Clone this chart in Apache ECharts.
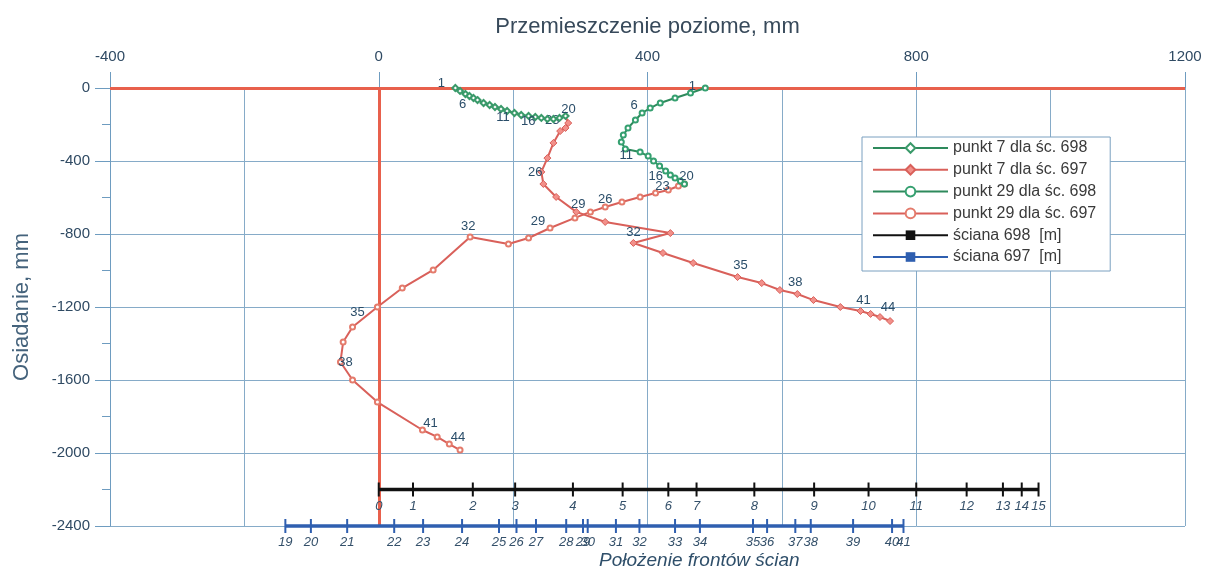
<!DOCTYPE html>
<html>
<head>
<meta charset="utf-8">
<script src="https://cdn.jsdelivr.net/npm/echarts@6/dist/echarts.min.js"></script>
<style>
  html, body { margin: 0; padding: 0; background: #ffffff; }
  #chart { width: 1207px; height: 574px; }
</style>
</head>
<body>
<div id="chart"></div>
<script>
// Measurement numbers for each wall
const nWall698 = [1,2,3,4,5,6,7,8,9,10,11,12,13,14,15,16,17,18,19,20];
const nWall697 = [20,21,22,23,24,25,26,27,28,29,30,31,32,33,34,35,36,37,38,39,40,41,42,43,44];

// Point 7 – horizontal displacement (mm) and settlement (mm)
const p7w698X = [114,121,129,135,141,147,156,165,173,182,191,202,212,223,233,242,251,260,269,278];
const p7w698Y = [0,-16,-33,-44,-55,-66,-82,-93,-104,-115,-126,-137,-148,-153,-159,-164,-170,-170,-164,-153];
const p7w697X = [278,282,278,270,260,251,242,245,264,294,337,434,379,423,468,534,570,597,623,647,687,717,732,746,761];
const p7w697Y = [-153,-192,-219,-236,-301,-384,-460,-526,-597,-679,-734,-795,-849,-904,-959,-1036,-1069,-1107,-1129,-1162,-1200,-1222,-1238,-1255,-1277];

// Point 29 – horizontal displacement (mm) and settlement (mm)
const p29w698X = [486,464,441,419,404,392,382,371,364,361,367,389,401,409,418,427,434,441,449,455];
const p29w698Y = [0,-27,-55,-82,-110,-137,-175,-219,-258,-296,-334,-351,-373,-400,-427,-455,-477,-493,-510,-526];
const p29w697X = [455,446,431,412,389,362,337,315,292,255,223,193,136,81,35,-2,-39,-53,-57,-39,-2,65,87,105,121];
const p29w697Y = [-526,-537,-559,-575,-597,-625,-652,-679,-712,-767,-822,-855,-816,-997,-1096,-1200,-1310,-1392,-1501,-1600,-1721,-1874,-1912,-1951,-1984];

// Wall front positions (horizontal scale, mm) and their labels
const wall698Pos = [0,51,140,203,289,363,431,473,559,648,729,800,875,929,957,982];
const wall698Labels = ['0','1','2','3','4','5','6','7','8','9','10','11','12','13','14','15'];
const wall697Pos = [-139,-101,-47,23,66,124,179,205,234,279,304,311,353,388,441,478,557,578,620,643,706,764,781];
const wall697Labels = ['19','20','21','22','23','24','25','26','27','28','29','30','31','32','33','34','35','36','37','38','39','40','41'];
const wall698Level = -2200;
const wall697Level = -2400;

// Axis ranges
const xMin = -400, xMax = 1200, xStep = 400;
const yMin = -2400, yMax = 0, yStep = 400;

// Where each measurement number label sits relative to its point (px)
const labelOffsets = {
  p7w698: {1: [-14, -5], 6: [-15, 4], 11: [-4, 6], 16: [-13, 3], 20: [3, -7]},
  p7w697: {23: [-8, -11], 26: [-6, 0], 29: [2, -7], 32: [0, -11], 35: [3, -12], 38: [-2, -12], 41: [3, -11], 44: [-2, -14]},
  p29w698: {1: [-13, -2], 6: [-8, -8], 11: [1, 6], 16: [-10, 5], 20: [2, -8]},
  p29w697: {23: [7, -7], 26: [0, -8], 29: [-12, -7], 32: [-2, -10], 35: [-20, 5], 38: [5, 0], 41: [8, -7], 44: [-2, -13]}
};

const FONT = '"Liberation Sans", Arial, sans-serif';
const gridColor = '#86abc8';
const axisColor = '#6e9cc0';
const textColor = '#2f4a63';

function pointData(xs, ys, ns, offsets) {
  return xs.map((x, i) => {
    const n = ns[i];
    const item = { name: String(n), value: [x, ys[i]] };
    if (offsets[n]) {
      item.label = { show: true, position: 'inside', offset: offsets[n] };
    }
    return item;
  });
}

function wallData(pos, labels, level) {
  return pos.map((p, i) => ({ name: labels[i], value: [p, level] }));
}

const pointLabel = {
  show: false,
  formatter: '{b}',
  fontFamily: FONT,
  fontSize: 13,
  color: '#2a4d69'
};

function measurementSeries(name, xs, ys, ns, offsets, symbol, size, lineColor, markerStyle, z) {
  return {
    name: name,
    type: 'line',
    data: pointData(xs, ys, ns, offsets),
    symbol: symbol,
    symbolSize: size,
    showAllSymbol: true,
    lineStyle: { color: lineColor, width: 2 },
    itemStyle: markerStyle,
    label: pointLabel,
    z: z,
    clip: false
  };
}

function wallSeries(name, pos, labels, level, color) {
  return {
    name: name,
    type: 'line',
    data: wallData(pos, labels, level),
    symbol: 'rect',
    symbolSize: [2, 14],
    showAllSymbol: true,
    lineStyle: { color: color, width: 3.5 },
    itemStyle: { color: color },
    label: {
      show: true,
      position: 'bottom',
      distance: 3,
      formatter: '{b}',
      fontFamily: FONT,
      fontStyle: 'italic',
      fontSize: 13,
      color: '#34506a'
    },
    clip: false,
    z: 3
  };
}

const series = [
  measurementSeries('punkt 7 dla śc. 698', p7w698X, p7w698Y, nWall698, labelOffsets.p7w698,
    'emptyDiamond', 6, '#2e8a5c', { color: '#3a9a6a', borderColor: '#3a9a6a', borderWidth: 1.2 }, 5),
  measurementSeries('punkt 7 dla śc. 697', p7w697X, p7w697Y, nWall697, labelOffsets.p7w697,
    'diamond', 7, '#d9605a', { color: '#f2908a', borderColor: '#d9605a', borderWidth: 1 }, 4),
  measurementSeries('punkt 29 dla śc. 698', p29w698X, p29w698Y, nWall698, labelOffsets.p29w698,
    'emptyCircle', 5, '#2e8a5c', { color: '#35a070', borderColor: '#35a070', borderWidth: 1.2 }, 5),
  measurementSeries('punkt 29 dla śc. 697', p29w697X, p29w697Y, nWall697, labelOffsets.p29w697,
    'emptyCircle', 5, '#d9605a', { color: '#e47b6c', borderColor: '#e47b6c', borderWidth: 1.2 }, 4),
  wallSeries('ściana 698  [m]', wall698Pos, wall698Labels, wall698Level, '#111111'),
  wallSeries('ściana 697  [m]', wall697Pos, wall697Labels, wall697Level, '#2f5fb0')
];

// Zero reference lines of both axes
series[0].markLine = {
  silent: true,
  symbol: ['none', 'none'],
  label: { show: false },
  lineStyle: { color: '#e8604c', width: 3, type: 'solid' },
  data: [{ yAxis: 0 }, { xAxis: 0 }],
  z: 1
};

const plain = v => String(v);

const option = {
  animation: false,
  backgroundColor: '#ffffff',
  textStyle: { fontFamily: FONT },
  title: {
    text: 'Położenie frontów ścian',
    left: 599,
    top: 551,
    padding: 0,
    textStyle: { fontFamily: FONT, fontStyle: 'italic', fontWeight: 'normal', fontSize: 19, color: '#2f4f6a' }
  },
  legend: {
    orient: 'vertical',
    left: 862,
    top: 137,
    padding: [3, 14, 6, 10],
    backgroundColor: '#ffffff',
    borderColor: '#7aa0c0',
    borderWidth: 1,
    itemWidth: 75,
    itemHeight: 12,
    itemGap: 5.8,
    textStyle: { fontFamily: FONT, fontSize: 16, color: '#3a3a3a', lineHeight: 16 },
    data: series.map(s => s.name)
  },
  grid: { left: 110, right: 22, top: 88, bottom: 48, containLabel: false },
  xAxis: {
    type: 'value',
    position: 'top',
    min: xMin,
    max: xMax,
    interval: xStep,
    name: 'Przemieszczenie poziome, mm',
    nameLocation: 'middle',
    nameGap: 50,
    nameTextStyle: { fontFamily: FONT, fontSize: 22, color: '#37495a' },
    axisLine: { show: false, onZero: false },
    axisTick: { show: true, inside: false, length: 16, lineStyle: { color: axisColor } },
    axisLabel: { fontFamily: FONT, fontSize: 15, color: textColor, margin: 24, formatter: plain },
    splitLine: { show: true, lineStyle: { color: gridColor, width: 1 } },
    minorTick: { show: false, splitNumber: 2 },
    minorSplitLine: { show: true, lineStyle: { color: gridColor, width: 1 } }
  },
  yAxis: {
    type: 'value',
    min: yMin,
    max: yMax,
    interval: yStep,
    name: 'Osiadanie, mm',
    nameLocation: 'middle',
    nameGap: 77,
    nameTextStyle: { fontFamily: FONT, fontSize: 22, color: '#45637c' },
    axisLine: { show: true, onZero: false, lineStyle: { color: axisColor, width: 1 } },
    axisTick: { show: true, inside: false, length: 15, lineStyle: { color: axisColor } },
    minorTick: { show: true, splitNumber: 2, length: 8, lineStyle: { color: axisColor } },
    axisLabel: { fontFamily: FONT, fontSize: 15, color: textColor, margin: 20, formatter: plain },
    splitLine: { show: true, lineStyle: { color: gridColor, width: 1 } }
  },
  series: series
};

const chart = echarts.init(document.getElementById('chart'), null, { renderer: 'canvas' });
chart.setOption(option);
</script>
</body>
</html>
